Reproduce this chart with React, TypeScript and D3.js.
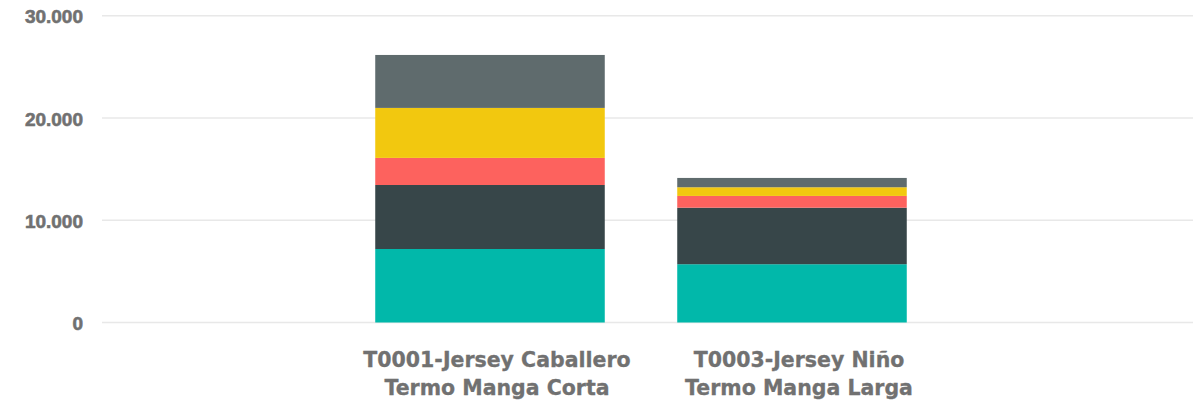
import React from "react";
import * as d3 from "d3";

const categories = [
  ["T0001-Jersey Caballero", "Termo Manga Corta"],
  ["T0003-Jersey Niño", "Termo Manga Larga"],
];
const seriesNames = ["S1", "S2", "S3", "S4", "S5"];
const seriesColors = ["#01B8AA", "#374649", "#FD625E", "#F2C80F", "#5F6B6D"];
const s1 = [7190, 5700];
const s2 = [6260, 5530];
const s3 = [2650, 1150];
const s4 = [4890, 850];
const s5 = [5180, 910];
const yTicks = [0, 10000, 20000, 30000];
const yTickLabels = ["0", "10.000", "20.000", "30.000"];

const W = 1201;
const H = 402;

export default function App() {
  const y = d3.scaleLinear().domain([0, 30000]).range([322.5, 15.8]);
  const keys = categories.map((c) => c.join(" "));
  const x = d3
    .scaleBand<string>()
    .domain(keys)
    .range([339, 943])
    .paddingInner(0.24)
    .paddingOuter(0.12);

  const rows = keys.map((k, i) => ({
    key: k,
    S1: s1[i],
    S2: s2[i],
    S3: s3[i],
    S4: s4[i],
    S5: s5[i],
  }));
  const stack = d3.stack<any>().keys(seriesNames)(rows);
  const font = "'Liberation Sans', Arial, sans-serif";
  const catFont = "'DejaVu Sans', Verdana, sans-serif";
  const textColor = "#717171";

  return (
    <svg
      width={W}
      height={H}
      style={{ position: "absolute", left: 0, top: 0, background: "#fff" }}
    >
      {yTicks.map((t, i) => (
        <g key={t}>
          <line
            x1={102}
            x2={1193}
            y1={y(t)}
            y2={y(t)}
            stroke="#e8e8e8"
            strokeWidth={1.6}
          />
          <text
            x={83}
            y={y(t) + 1}
            textAnchor="end"
            dominantBaseline="central"
            fontFamily={font}
            fontWeight="bold"
            fontSize={19}
            fill={textColor}
            stroke={textColor}
            strokeWidth={0.6}
          >
            {yTickLabels[i]}
          </text>
        </g>
      ))}
      {stack.map((layer, si) => (
        <g key={seriesNames[si]} fill={seriesColors[si]}>
          {layer.map((d, i) => (
            <rect
              key={i}
              x={x(keys[i])}
              width={x.bandwidth()}
              y={y(d[1])}
              height={y(d[0]) - y(d[1])}
            />
          ))}
        </g>
      ))}
      {categories.map((c, i) => (
        <text
          key={i}
          textAnchor="middle"
          fontFamily={catFont}
          fontWeight="bold"
          fontSize={20.5}
          fill={textColor}
          stroke={textColor}
          strokeWidth={0.3}
        >
          {c.map((line, li) => (
            <tspan
              key={li}
              x={(x(keys[i]) as number) + x.bandwidth() / 2 + 7}
              y={366.5 + li * 28.5}
            >
              {line}
            </tspan>
          ))}
        </text>
      ))}
    </svg>
  );
}
